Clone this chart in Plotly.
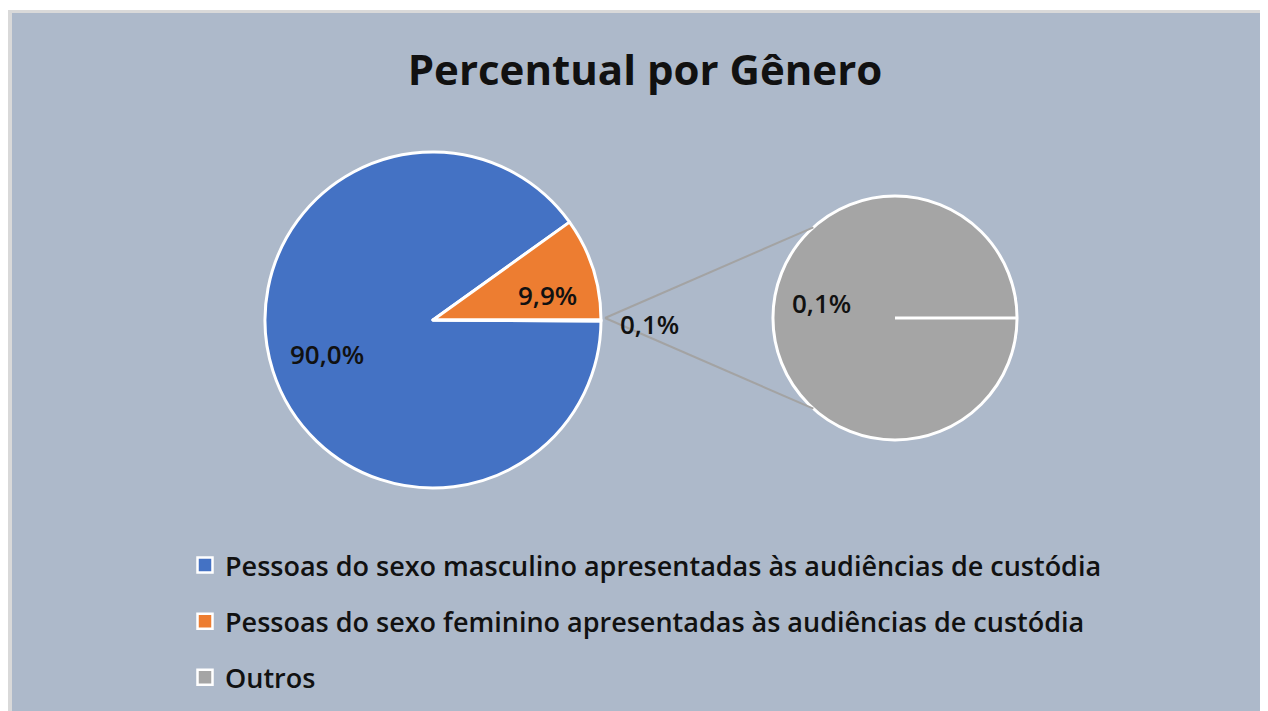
import math
import plotly.graph_objects as go

# ---------------- data ----------------
categories = [
    "Pessoas do sexo masculino apresentadas às audiências de custódia",
    "Pessoas do sexo feminino apresentadas às audiências de custódia",
    "Outros",
]
percent = [90.0, 9.9, 0.1]
secondary_labels = ["Outros"]
secondary_values = [0.1]
colors = ["#4472C4", "#ED7D31", "#A5A5A5"]
title_text = "Percentual por Gênero"

# ---------------- geometry (reference pixels) ----------------
OFF = 8                      # browser body margin
FW, FH = 1268, 711 - OFF
BG = "#ADB9CA"
FONT = "Open Sans"


def px(x):
    return (x - OFF) / FW


def py(y):
    return 1 - (y - OFF) / FH


MC = (433, 320)   # main pie centre
MR = 168          # main pie radius
SC = (895, 318)   # secondary pie centre
SR = 122          # secondary pie radius


def fmt(v):
    return f"{v:.1f}%".replace(".", ",")


fig = go.Figure()

# main pie: start just below 3 o'clock, clockwise
start_clock = 90 + percent[2] * 3.6
fig.add_trace(go.Pie(
    labels=categories, values=percent, sort=False, direction="clockwise",
    rotation=start_clock,
    marker=dict(colors=colors, line=dict(color="white", width=3)),
    textinfo="none", showlegend=False, hoverinfo="label+percent",
    domain=dict(x=[px(MC[0] - MR), px(MC[0] + MR)], y=[py(MC[1] + MR), py(MC[1] - MR)]),
))

# secondary pie
fig.add_trace(go.Pie(
    labels=secondary_labels, values=secondary_values, sort=False,
    marker=dict(colors=[colors[2]], line=dict(color="white", width=3)),
    textinfo="none", showlegend=False, hoverinfo="label+value",
    domain=dict(x=[px(SC[0] - SR), px(SC[0] + SR)], y=[py(SC[1] + SR), py(SC[1] - SR)]),
))

# legend entries (one group each so that the gap can be set)
for name, col in zip(categories, colors):
    fig.add_trace(go.Scatter(
        x=[None], y=[None], mode="markers", name=name, legendgroup=name,
        marker=dict(symbol="square", size=15, color=col, line=dict(color="white", width=2.5)),
    ))

label_font = dict(family=FONT, size=26, color="#111111", weight=600)
annotations = []
# labels of main pie slices (math angles, counter-clockwise from 3 o'clock)
ang = -percent[2] * 3.6
label_r = [0.66, 0.70]
label_frac = [0.5, 0.655]
for i in range(2):
    span = percent[i] * 3.6
    mid = ang - span * label_frac[i]
    ang -= span
    a = math.radians(mid)
    x = MC[0] + label_r[i] * MR * math.cos(a)
    y = MC[1] - label_r[i] * MR * math.sin(a)
    annotations.append(dict(x=px(x), y=py(y), xref="paper", yref="paper", text=fmt(percent[i]),
                            xanchor="center", yanchor="middle", showarrow=False, font=label_font))
# "Outros" in main pie, outside
annotations.append(dict(x=px(MC[0] + MR + 17), y=py(MC[1] + 4), xref="paper", yref="paper",
                        xanchor="left", yanchor="middle", text=fmt(percent[2]), showarrow=False,
                        font=label_font))
# secondary label
annotations.append(dict(x=px(SC[0] - 0.6 * SR), y=py(SC[1] - 0.12 * SR), xref="paper", yref="paper",
                        xanchor="center", yanchor="middle",
                        text=fmt(secondary_values[0]), showarrow=False, font=label_font))

shapes = [
    dict(type="rect", xref="paper", yref="paper", x0=px(7), x1=px(1290), y0=py(730), y1=py(10),
         fillcolor="#D9D9D9", line=dict(width=0), layer="below"),
    dict(type="rect", xref="paper", yref="paper", x0=px(12), x1=px(1290), y0=py(730), y1=py(13),
         fillcolor=BG, line=dict(width=0), layer="below"),
]
# connector lines
for sgn in (1, -1):
    a = math.radians(132 * sgn)
    shapes.append(dict(type="line", xref="paper", yref="paper",
                       x0=px(MC[0] + MR + 4), y0=py(MC[1] - 2),
                       x1=px(SC[0] + SR * math.cos(a)), y1=py(SC[1] - SR * math.sin(a)),
                       line=dict(color="#A3A3A3", width=2), layer="above"))
# radial edge line of secondary pie
shapes.append(dict(type="line", xref="paper", yref="paper",
                   x0=px(SC[0]), y0=py(SC[1]), x1=px(SC[0] + SR), y1=py(SC[1]),
                   line=dict(color="white", width=3), layer="above"))

fig.update_layout(
    width=FW, height=FH, autosize=False,
    margin=dict(l=0, r=0, t=0, b=0),
    paper_bgcolor="white", plot_bgcolor="rgba(0,0,0,0)",
    xaxis=dict(visible=False), yaxis=dict(visible=False),
    title=dict(text=f"<b>{title_text}</b>", x=px(645), y=py(70), xanchor="center", yanchor="middle",
               font=dict(family=FONT, size=42, color="#111111")),
    legend=dict(x=px(185), y=py(541), xanchor="left", yanchor="top", tracegroupgap=18,
                bgcolor="rgba(0,0,0,0)",
                font=dict(family=FONT, size=27, color="#111111", weight=600)),
    annotations=annotations, shapes=shapes,
)

fig.write_html("out.html")
